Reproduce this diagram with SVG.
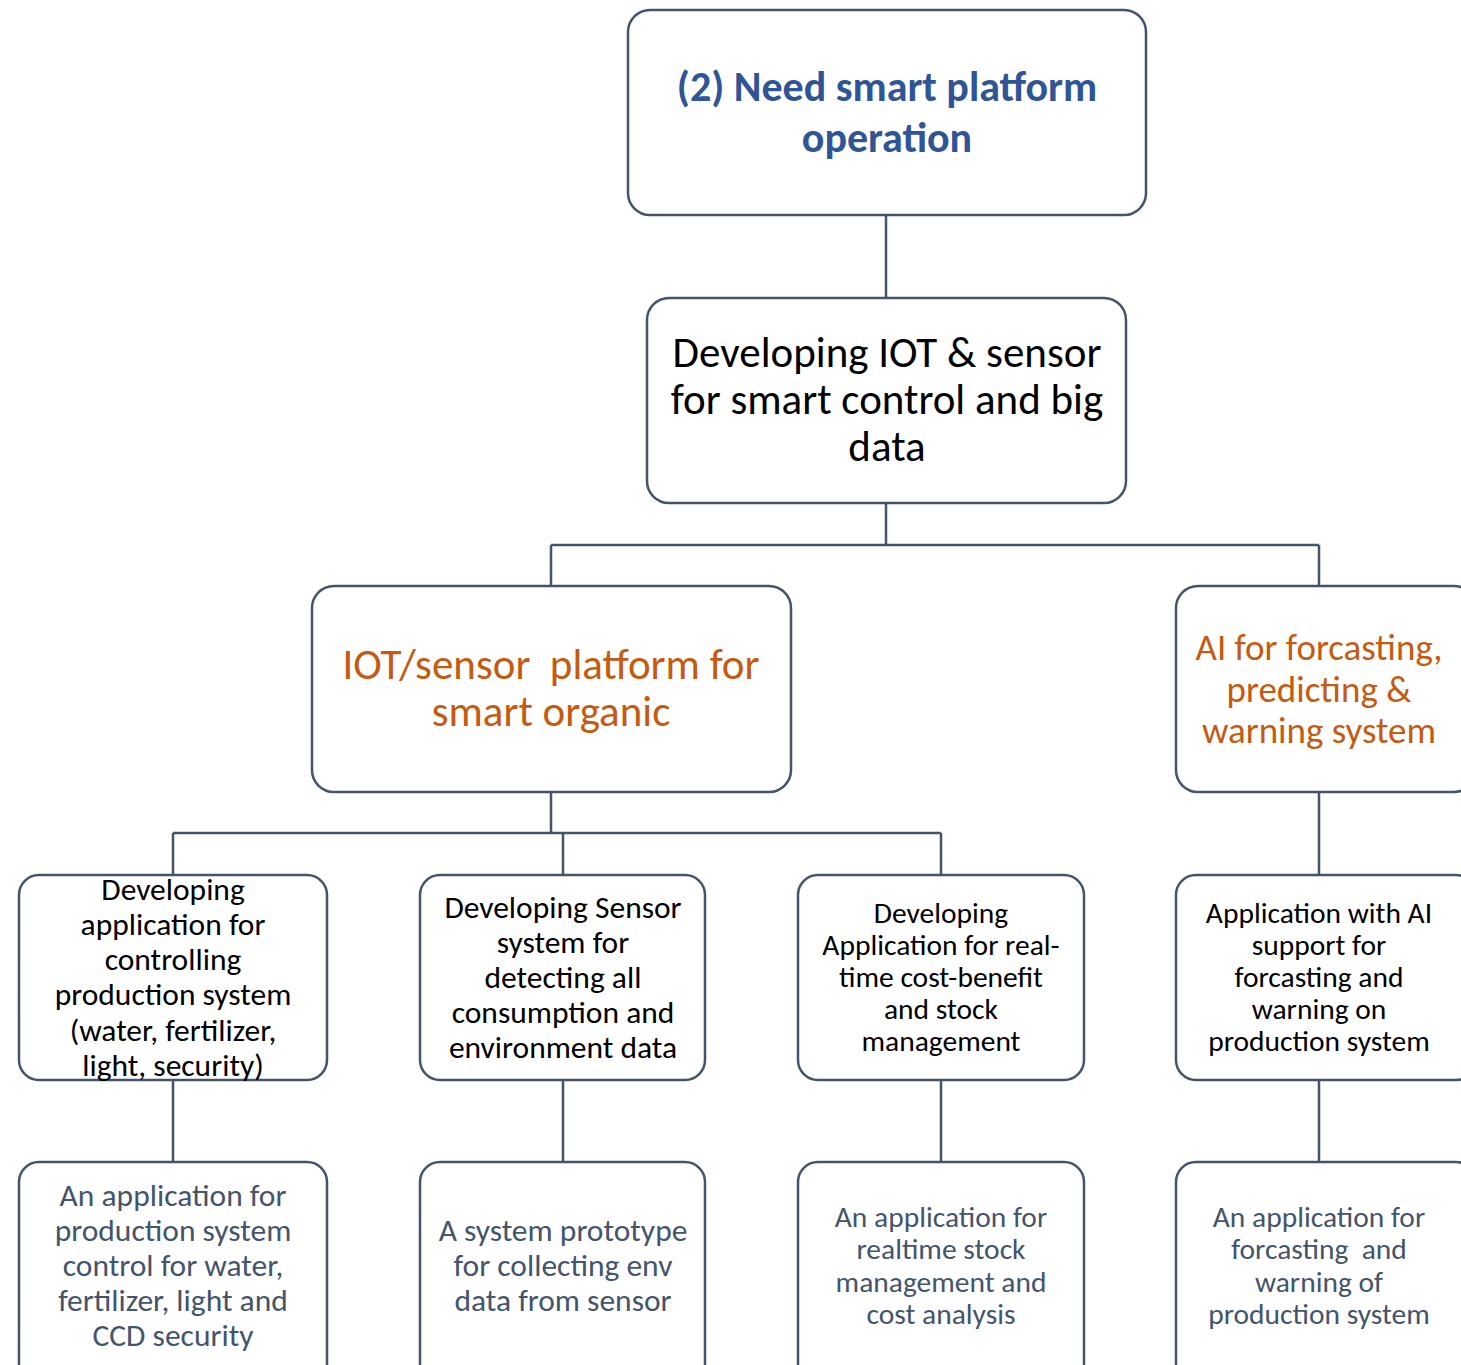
<svg xmlns="http://www.w3.org/2000/svg" width="1461" height="1365" viewBox="0 0 1461 1365">
<style>
.box{fill:#fff;stroke:#44546A;stroke-width:2.5}
.conn{fill:none;stroke:#44546A;stroke-width:2.5}
text{font-family:Carlito,Lato,"Open Sans",sans-serif;text-anchor:middle;white-space:pre}
.t1{fill:#2F5597;font-size:42px;font-weight:bold}
.t2{fill:#000;font-size:43px}
.t3{fill:#C55A11;font-size:43px}
.t3b{fill:#C55A11;font-size:37px}
.s28{fill:#000;font-size:31.5px}
.s26{fill:#000;font-size:29.5px}
.g28{fill:#44546A;font-size:31.5px}
.g26{fill:#44546A;font-size:29.5px}
</style>
<rect width="1461" height="1365" fill="#fff"/>
<g id="connectors">
<path class="conn" d="M886 215V298M886 503V545M551 545H1319M551 545V586M1319 545V586M551 792V833M173 833H941M173 833V875M563 833V875M941 833V875M1319 792V875M173 1080V1162M563 1080V1162M941 1080V1162M1319 1080V1162"/>
</g>
<g id="n-top">
<rect class="box" x="628" y="10" width="518" height="205" rx="22"/>
<text class="t1" x="887" y="101">(2) Need smart platform</text>
<text class="t1" x="887" y="152">operation</text>
</g>
<g id="n-iot">
<rect class="box" x="647" y="298" width="479" height="205" rx="22"/>
<text class="t2" x="887" y="367">Developing IOT &amp; sensor</text>
<text class="t2" x="887" y="414">for smart control and big</text>
<text class="t2" x="887" y="461">data</text>
</g>
<g id="n-platform">
<rect class="box" x="312" y="586" width="479" height="206" rx="22"/>
<text class="t3" x="551" y="679" xml:space="preserve">IOT/sensor  platform for</text>
<text class="t3" x="551" y="726">smart organic</text>
</g>
<g id="n-ai">
<rect class="box" x="1176" y="586" width="300" height="206" rx="22"/>
<text class="t3b" x="1319" y="660">AI for forcasting,</text>
<text class="t3b" x="1319" y="702">predicting &amp;</text>
<text class="t3b" x="1319" y="743">warning system</text>
</g>
<g id="n-control">
<rect class="box" x="19" y="875" width="308" height="205" rx="20"/>
<text class="s28" x="173" y="900">Developing</text>
<text class="s28" x="173" y="935">application for</text>
<text class="s28" x="173" y="970">controlling</text>
<text class="s28" x="173" y="1005">production system</text>
<text class="s28" x="173" y="1041">(water, fertilizer,</text>
<text class="s28" x="173" y="1076">light, security)</text>
</g>
<g id="n-sensor">
<rect class="box" x="420" y="875" width="285" height="205" rx="20"/>
<text class="s28" x="563" y="918">Developing Sensor</text>
<text class="s28" x="563" y="953">system for</text>
<text class="s28" x="563" y="988">detecting all</text>
<text class="s28" x="563" y="1023">consumption and</text>
<text class="s28" x="563" y="1058">environment data</text>
</g>
<g id="n-cost">
<rect class="box" x="798" y="875" width="286" height="205" rx="20"/>
<text class="s26" x="941" y="923">Developing</text>
<text class="s26" x="941" y="955">Application for real-</text>
<text class="s26" x="941" y="987">time cost-benefit</text>
<text class="s26" x="941" y="1019">and stock</text>
<text class="s26" x="941" y="1051">management</text>
</g>
<g id="n-aiapp">
<rect class="box" x="1176" y="875" width="300" height="205" rx="20"/>
<text class="s26" x="1319" y="923">Application with AI</text>
<text class="s26" x="1319" y="955">support for</text>
<text class="s26" x="1319" y="987">forcasting and</text>
<text class="s26" x="1319" y="1019">warning on</text>
<text class="s26" x="1319" y="1051">production system</text>
</g>
<g id="n-out-control">
<rect class="box" x="19" y="1162" width="308" height="225" rx="20"/>
<text class="g28" x="173" y="1206">An application for</text>
<text class="g28" x="173" y="1241">production system</text>
<text class="g28" x="173" y="1276">control for water,</text>
<text class="g28" x="173" y="1311">fertilizer, light and</text>
<text class="g28" x="173" y="1346">CCD security</text>
</g>
<g id="n-out-sensor">
<rect class="box" x="420" y="1162" width="285" height="225" rx="20"/>
<text class="g28" x="563" y="1241">A system prototype</text>
<text class="g28" x="563" y="1276">for collecting env</text>
<text class="g28" x="563" y="1311">data from sensor</text>
</g>
<g id="n-out-cost">
<rect class="box" x="798" y="1162" width="286" height="225" rx="20"/>
<text class="g26" x="941" y="1227">An application for</text>
<text class="g26" x="941" y="1259">realtime stock</text>
<text class="g26" x="941" y="1292">management and</text>
<text class="g26" x="941" y="1324">cost analysis</text>
</g>
<g id="n-out-ai">
<rect class="box" x="1176" y="1162" width="300" height="225" rx="20"/>
<text class="g26" x="1319" y="1227">An application for</text>
<text class="g26" x="1319" y="1259" xml:space="preserve">forcasting  and</text>
<text class="g26" x="1319" y="1292">warning of</text>
<text class="g26" x="1319" y="1324">production system</text>
</g>
</svg>
